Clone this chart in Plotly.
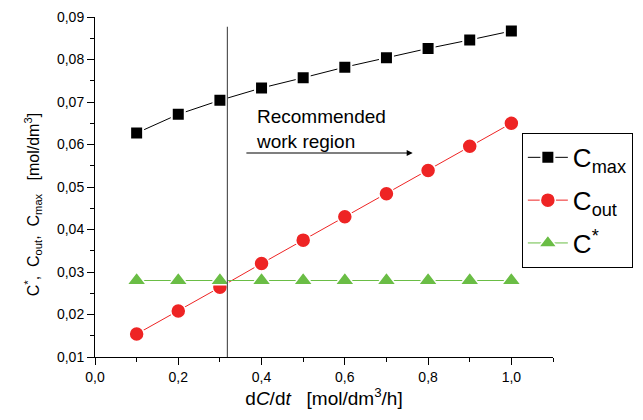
import plotly.graph_objects as go

# ---- data ----
x_vals = [0.1, 0.2, 0.3, 0.4, 0.5, 0.6, 0.7, 0.8, 0.9, 1.0]
c_max = [0.0627, 0.0671, 0.0704, 0.0733, 0.0757, 0.0782, 0.0804, 0.0826, 0.0846, 0.0867]
c_out = [0.0154, 0.0208, 0.0264, 0.0320, 0.0375, 0.0430, 0.0484, 0.0539, 0.0596, 0.0650]
c_star = [0.0280] * 10
series_names = ["C<sub>max</sub>", "C<sub>out</sub>", "C<sup>*</sup>"]
x_ticks = [0.0, 0.2, 0.4, 0.6, 0.8, 1.0]
y_ticks = [0.01, 0.02, 0.03, 0.04, 0.05, 0.06, 0.07, 0.08, 0.09]
work_limit = 0.318

FONT = "Liberation Sans, Arial, sans-serif"
BLACK = "#000000"
RED = "#EE2424"
GREEN = "#6ABD45"

fig = go.Figure()
fig.add_trace(go.Scatter(
    x=x_vals, y=c_max, name=series_names[0], mode="lines+markers", legendgroup="a",
    line=dict(color=BLACK, width=1),
    marker=dict(symbol="square", size=13, color=BLACK, line=dict(color="white", width=2)),
))
fig.add_trace(go.Scatter(
    x=x_vals, y=c_out, name=series_names[1], mode="lines+markers", legendgroup="b",
    line=dict(color=RED, width=1),
    marker=dict(symbol="circle", size=15, color=RED, line=dict(color="white", width=1.5)),
))
fig.add_trace(go.Scatter(
    x=x_vals, y=c_star, name=series_names[2], mode="lines+markers", legendgroup="c",
    line=dict(color=GREEN, width=1),
    marker=dict(symbol="triangle-up", size=17, color=GREEN, line=dict(color="white", width=1.5)),
))

# vertical boundary of the recommended region
fig.add_shape(type="line", xref="x", yref="y", x0=work_limit, x1=work_limit,
              y0=0.01, y1=0.0877, line=dict(color="#555555", width=1.2))

# text + arrow
fig.add_annotation(x=0.383, y=0.0637, xref="x", yref="y", xanchor="left", yanchor="middle",
                   text="Recommended<br>work region", showarrow=False, align="left",
                   font=dict(family=FONT, size=19, color=BLACK))
fig.add_annotation(x=0.763, y=0.0580, ax=0.36, ay=0.0580, xref="x", yref="y",
                   axref="x", ayref="y", text="", showarrow=True,
                   arrowhead=2, arrowsize=1, arrowwidth=1.2, arrowcolor=BLACK)

# y-axis title
fig.add_annotation(x=-0.135, y=0.447, xref="paper", yref="paper", showarrow=False,
                   textangle=-90, xanchor="center", yanchor="middle",
                   text="C<sup>*</sup>,  C<sub>out</sub>,  C<sub>max</sub>   [mol/dm<sup>3</sup>]",
                   font=dict(family=FONT, size=16, color=BLACK))

fig.update_layout(
    width=643, height=420,
    margin=dict(l=87, r=98, t=9, b=71, autoexpand=False),
    paper_bgcolor="white", plot_bgcolor="white",
    separators=",.",
    font=dict(family=FONT, size=14, color=BLACK),
    showlegend=True,
    legend=dict(x=0.932, y=0.659, xanchor="left", yanchor="top",
                bgcolor="white", bordercolor=BLACK, borderwidth=1,
                font=dict(family=FONT, size=26, color=BLACK),
                itemwidth=40, tracegroupgap=6),
    xaxis=dict(range=[0, 1.1], tickvals=x_ticks, tickformat=".1f",
               showgrid=False, zeroline=False, showline=True, linecolor=BLACK, linewidth=1,
               ticks="outside", ticklen=7, tickwidth=1, tickcolor=BLACK,
               minor=dict(dtick=0.1, tick0=0, ticks="outside", ticklen=4, tickcolor=BLACK),
               tickfont=dict(family=FONT, size=14),
               title=dict(text="d<i>C</i>/d<i>t</i>   [mol/dm<sup>3</sup>/h]",
                          font=dict(family=FONT, size=19), standoff=6)),
    yaxis=dict(range=[0.01, 0.09], tickvals=y_ticks, tickformat=".2f",
               showgrid=False, zeroline=False, showline=True, linecolor=BLACK, linewidth=1,
               ticks="outside", ticklen=7, tickwidth=1, tickcolor=BLACK,
               minor=dict(dtick=0.005, tick0=0.01, ticks="outside", ticklen=4, tickcolor=BLACK),
               tickfont=dict(family=FONT, size=14)),
)

fig.write_html("out.html")
